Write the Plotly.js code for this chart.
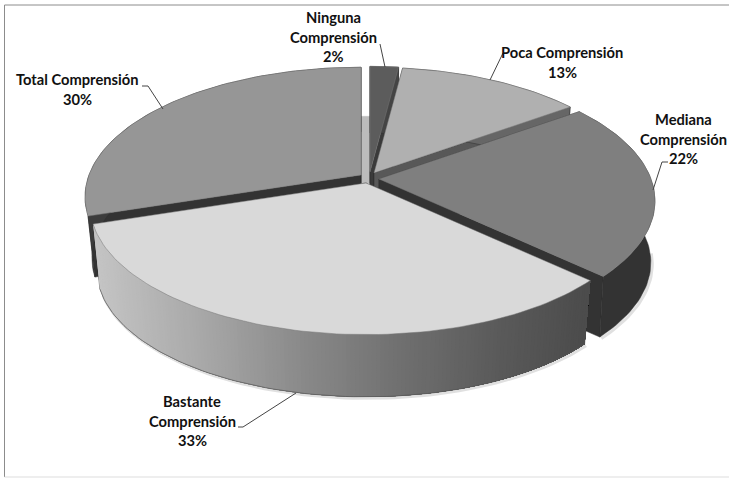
<!DOCTYPE html>
<html><head><meta charset="utf-8">
<script src="https://cdn.plot.ly/plotly-3.0.1.min.js"></script>
<style>html,body{margin:0;padding:0;background:#fff}#c{width:729px;height:478px}</style>
</head><body><div id="c"></div>
<script>
// Data
const categories = [["Ninguna","Comprensión"],["Poca Comprensión"],["Mediana","Comprensión"],["Bastante","Comprensión"],["Total Comprensión"]];
const shares = [2,13,22,33,30];
// Styling per slice
const topColors  = ["#5c5c5c","#b0b0b0","#7f7f7f","#d9d9d9","#969696"];
const faceColors = ["#3a3a3a","#585858","#333333","#4a4a4a","#333333"];
const wallColors = ["#444444","#666666","#333333",null,"#3c3c3c"];
const apexX = [370,374,379,366,361];
const apexY = [172,173,179,183,175];
const sliceScale = [0.98,0.98,1,1,1];
const sliceDepth = [64,64,62,66,62];
const sliceShrink = [0.975,0.975,0.985,0.975,0.975];
const drawOrder = [0,1,4,2,3];
const labelX = [333,562,683,192,77];
const labelFirstY = [17,52,119,401,79];
const LINE_GAP = 19.5;
const leaderPaths = ["M385,67 L380,44","M490,80 L503,53 L507,53","M653,190 L662,162 L668,162","M296,393 L243,427 L238,427","M163,109 L148,86 L142,86"];
const gradStops = [[95,196],[200,168],[300,138],[400,112],[500,90],[585,76]];

// Projection
const RX=272, RY=126, K=0.169;
function pt(i,deg,bottom){
  const t=deg*Math.PI/180, u=Math.sin(t), v=-Math.cos(t), w=1-K*v;
  let dx=RX*u/w*sliceScale[i], dy=RY*v/w*sliceScale[i];
  if(bottom){dx*=sliceShrink[i];dy=dy*sliceShrink[i]+sliceDepth[i];}
  return [apexX[i]+dx, apexY[i]+dy];
}
function apex(i,bottom){return [apexX[i],apexY[i]+(bottom?sliceDepth[i]:0)];}
function arc(i,a,b,bottom){
  const n=Math.max(2,Math.ceil((b-a)/1.5)),out=[];
  for(let k=0;k<=n;k++)out.push(pt(i,a+(b-a)*k/n,bottom));
  return out;
}
function poly(points,color,lineColor,lw){
  return {type:"scatter",mode:"lines",x:points.map(p=>p[0]).concat([points[0][0]]),y:points.map(p=>p[1]).concat([points[0][1]]),
    fill:"toself",fillcolor:color,line:{color:lineColor||color,width:lw===undefined?0.6:lw},hoverinfo:"skip",showlegend:false};
}
function gray(x){
  let s=gradStops,g=s[s.length-1][1];
  if(x<=s[0][0])g=s[0][1];
  for(let j=0;j<s.length-1;j++)if(x>=s[j][0]&&x<=s[j+1][0])g=s[j][1]+(s[j+1][1]-s[j][1])*(x-s[j][0])/(s[j+1][0]-s[j][0]);
  g=Math.round(g);return `rgb(${g},${g},${g})`;
}
const starts=[];let cum=0;shares.forEach(v=>{starts.push(cum);cum+=v;});
const total=cum;
const traces=[];

// Soft shadow along the lower rim
[2,3].forEach(i=>{
  const a=starts[i]/total*360,b=(starts[i]+shares[i])/total*360;
  const pts=arc(i,i===2?95:a,i===3?Math.min(b,250):b,true);
  traces.push({type:"scatter",mode:"lines",x:pts.map(p=>p[0]+1.5),y:pts.map(p=>p[1]+1.5),line:{color:"rgba(0,0,0,0.12)",width:3},hoverinfo:"skip",showlegend:false});
});

// Light back face seen through the gap between the last and first slices
const gapTop=pt(0,0,false)[1]+50;
traces.push(poly([[apexX[4],gapTop],[apexX[0],gapTop],[apexX[0],apexY[3]],[apexX[4],apexY[3]]],"#bcbcbc"));

drawOrder.forEach(i=>{
  const a=starts[i]/total*360,b=(starts[i]+shares[i])/total*360;
  // radial cut faces
  [a,b].forEach(ang=>{
    traces.push(poly([apex(i,false),pt(i,ang,false),pt(i,ang,true),apex(i,true)],faceColors[i],"#2a2a2a",0.5));
  });
  // outer wall
  if(wallColors[i]){
    traces.push(poly(arc(i,a,b,false).concat(arc(i,a,b,true).reverse()),wallColors[i],"#2e2e2e",0.5));
  }else{
    // gradient wall: painted from the far end backwards so each strip lies over the next one's seam
    const step=0.75;
    const n=Math.ceil((b-a)/step);
    for(let k=n-1;k>=0;k--){
      const d=a+k*step, e=Math.min(b,d+step);
      const pts=arc(i,a,e,false).concat(arc(i,a,e,true).reverse());
      traces.push(poly(pts,gray(pt(i,(d+e)/2,false)[0]),"rgba(0,0,0,0)",0));
    }
    // thin outline of the wall
    const bot=arc(i,a,b,true);
    traces.push({type:"scatter",mode:"lines",x:bot.map(p=>p[0]),y:bot.map(p=>p[1]),line:{color:"#555",width:0.7},hoverinfo:"skip",showlegend:false});
  }
  // top surface
  traces.push(poly([apex(i,false)].concat(arc(i,a,b,false)),topColors[i],"#777777",0.5));
});

const annotations=[];
categories.forEach((lines,i)=>{
  lines.concat([shares[i]+"%"]).forEach((txt,j)=>{
    annotations.push({x:labelX[i],y:labelFirstY[i]+j*LINE_GAP,xref:"x",yref:"y",text:"<b>"+txt+"</b>",showarrow:false,
      xanchor:"center",yanchor:"middle",font:{family:"Lato",size:14.7,color:"#111"}});
  });
});

const shapes=leaderPaths.map(p=>({type:"path",path:p,xref:"x",yref:"y",line:{color:"#444",width:1}}));
shapes.push({type:"path",path:"M729,5 L4.5,5 L4.5,477",xref:"x",yref:"y",line:{color:"#8c8c8c",width:1}});
shapes.push({type:"path",path:"M4.5,477 L729,477",xref:"x",yref:"y",line:{color:"#dddddd",width:1}});

Plotly.newPlot("c",traces,{
  width:729,height:478,margin:{l:0,r:0,t:0,b:0},paper_bgcolor:"#fff",plot_bgcolor:"#fff",showlegend:false,
  xaxis:{range:[0,729],visible:false,fixedrange:true},
  yaxis:{range:[478,0],visible:false,fixedrange:true},
  annotations,shapes
},{displayModeBar:false,staticPlot:true});
</script></body></html>
